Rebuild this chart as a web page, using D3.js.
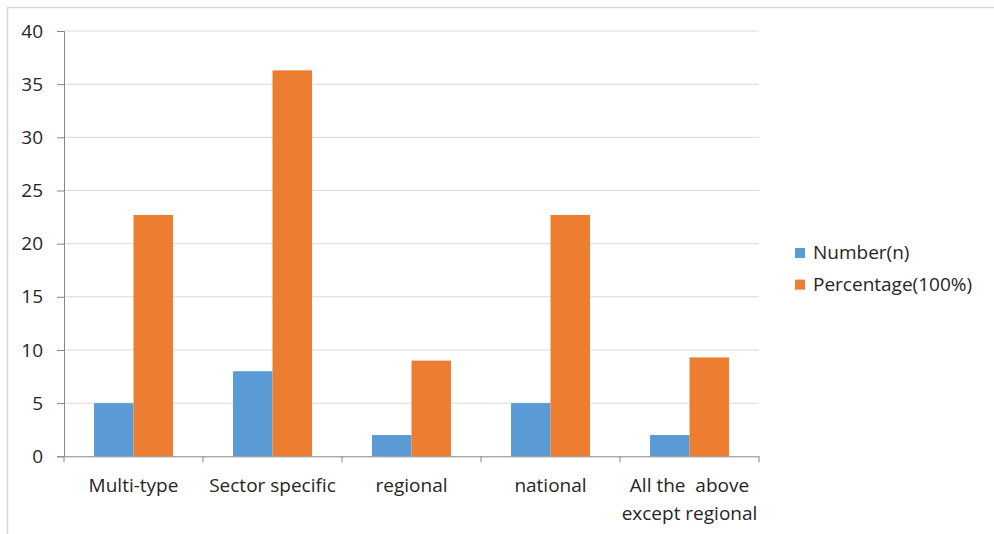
<!DOCTYPE html>
<html><head><meta charset="utf-8">
<script src="https://cdn.jsdelivr.net/npm/d3@7"></script>
<style>html,body{margin:0;padding:0;background:#fff;}</style>
</head><body>
<svg id="chart" width="994" height="534"></svg>
<script>
const categories = ["Multi-type", "Sector specific", "regional", "national", "All the  above|except regional"];
const seriesNames = ["Number(n)", "Percentage(100%)"];
const numberValues = [5, 8, 2, 5, 2];
const percentValues = [22.7, 36.3, 9, 22.7, 9.3];
const yTicks = [0, 5, 10, 15, 20, 25, 30, 35, 40];
const colors = ["#5B9BD5", "#ED7D31"];

const svg = d3.select("#chart");
const font = "'Open Sans', 'Liberation Sans', sans-serif";
const textColor = "#262626";

// outer border
svg.append("rect").attr("x", 7.5).attr("y", 7.5).attr("width", 994).attr("height", 540)
  .attr("fill", "none").attr("stroke", "#D9D9D9").attr("stroke-width", 1.5);

const x0 = d3.scaleBand().domain(categories).range([64, 759]).paddingInner(0).paddingOuter(0);
const x1 = d3.scaleBand().domain(seriesNames).range([0, x0.bandwidth()]).paddingInner(0).paddingOuter(0.76);
const y = d3.scaleLinear().domain([0, 40]).range([456.3, 31]);

// gridlines
svg.append("g").selectAll("line").data(yTicks.filter(d => d > 0)).join("line")
  .attr("x1", 64).attr("x2", 759)
  .attr("y1", d => y(d)).attr("y2", d => y(d))
  .attr("stroke", "#D9D9D9").attr("stroke-width", 1);

// bars
const data = categories.map((c, i) => ({cat: c, vals: [numberValues[i], percentValues[i]]}));
const groups = svg.append("g").selectAll("g").data(data).join("g")
  .attr("transform", d => `translate(${x0(d.cat)},0)`);
groups.selectAll("rect").data(d => d.vals.map((v, j) => ({name: seriesNames[j], v, j}))).join("rect")
  .attr("x", d => x1(d.name)).attr("width", x1.bandwidth())
  .attr("y", d => y(d.v)).attr("height", d => y(0) - y(d.v))
  .attr("fill", d => colors[d.j]);

// y axis
const yAxis = d3.axisLeft(y).tickValues(yTicks).tickSize(7);
const gy = svg.append("g").attr("transform", "translate(64,0)").call(yAxis);
gy.select(".domain").attr("stroke", "#868686");
gy.selectAll(".tick line").attr("stroke", "#868686");
gy.selectAll(".tick text").attr("font-family", font).attr("font-size", 19).attr("fill", textColor)
  .attr("x", -21);

// x axis
const xAxis = d3.axisBottom(x0).tickSize(0).tickFormat("");
const gx = svg.append("g").attr("transform", `translate(0,${y(0)})`).call(xAxis);
gx.select(".domain").attr("stroke", "#868686");
gx.selectAll(".tick").remove();
const boundaries = categories.map(c => x0(c)).concat([x0.range()[1]]);
gx.selectAll("line.sep").data(boundaries).join("line").attr("class", "sep")
  .attr("x1", d => d).attr("x2", d => d).attr("y1", 0).attr("y2", 6)
  .attr("stroke", "#868686");

// x labels
const lbl = svg.append("g").selectAll("text").data(categories).join("text")
  .attr("x", d => x0(d) + x0.bandwidth() / 2)
  .attr("y", 492)
  .attr("text-anchor", "middle")
  .attr("font-family", font).attr("font-size", 19).attr("fill", textColor);
lbl.each(function(d) {
  const parts = d.split("|");
  const t = d3.select(this);
  parts.forEach((p, k) => {
    t.append("tspan").attr("x", x0(d) + x0.bandwidth() / 2).attr("dy", k === 0 ? 0 : 28)
      .style("white-space", "pre").text(p);
  });
});

// legend
const leg = svg.append("g").selectAll("g").data(seriesNames).join("g")
  .attr("transform", (d, i) => `translate(795,${248 + i * 31.6})`);
leg.append("rect").attr("width", 10).attr("height", 10).attr("fill", (d, i) => colors[i]);
leg.append("text").attr("x", 18).attr("y", 11).attr("font-family", font).attr("font-size", 19)
  .attr("fill", textColor).text(d => d);
</script>
</body></html>
